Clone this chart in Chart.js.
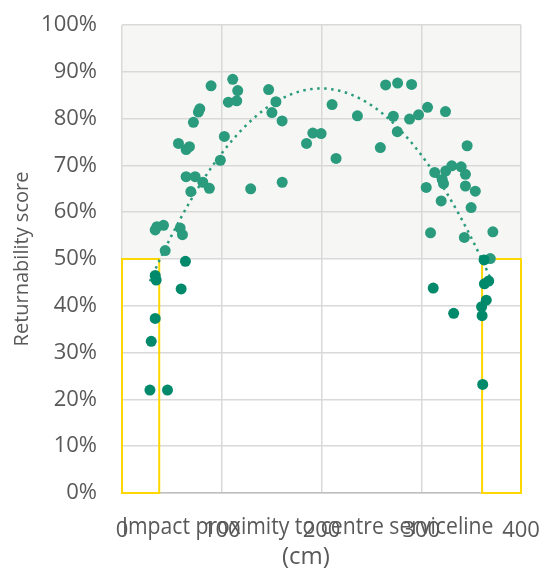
<!DOCTYPE html>
<html>
<head>
<meta charset="utf-8">
<script src="https://cdn.jsdelivr.net/npm/chart.js@4.4.1/dist/chart.umd.min.js"></script>
<style>
  html, body { margin: 0; padding: 0; background: #fff; }
  #wrap { width: 544px; height: 570px; }
</style>
</head>
<body>
<div id="wrap"><canvas id="scoreChart"></canvas></div>
<script>
// impact distance from centre serviceline (cm) and returnability score (%)
// points scoring 50% or more
const upperX = [43.3, 33.3, 35, 41.6, 58.3, 60.6, 69, 64.3, 73.3, 81, 87.6, 56.6, 64.3, 67.6,
    71.6, 76.6, 78, 89.3, 98.6, 102.6, 106.6, 111, 115, 116, 129, 147, 150.3, 154.3, 160.5,
    160.6, 185, 191.3, 199.6, 210.6, 214.6, 236, 259, 264.3, 276.3, 290.3, 272, 276, 288.3,
    297.3, 306.3, 324.3, 346, 313.5, 324.5, 330.6, 340, 344.3, 321, 322.3, 305, 344.3, 354.2,
    320, 350, 309.3, 343.2, 371.8, 369.2];
const upperY = [51.8, 56.2, 56.9, 57.2, 56.6, 55.2, 64.4, 67.6, 67.6, 66.4, 65.1, 74.7, 73.4, 74.0,
    79.2, 81.4, 82.1, 87.0, 71.1, 76.2, 83.5, 88.4, 83.8, 86.0, 65.0, 86.2, 81.3, 83.6, 79.5,
    66.4, 74.7, 76.9, 76.8, 83.0, 71.5, 80.6, 73.8, 87.2, 87.6, 87.3, 80.5, 77.2, 79.9,
    80.8, 82.4, 81.5, 74.2, 68.5, 68.8, 69.9, 69.7, 68.1, 67.0, 66.1, 65.3, 65.6, 64.5,
    62.4, 61.0, 55.6, 54.6, 55.8, 50.1];

// points scoring below 50%
const lowerX = [28, 45.6, 29.3, 33.3, 59.3, 33.3, 34.3, 63.6, 363, 312, 363.3, 367.6, 365.2,
    360.5, 332.5, 361, 361.6];
const lowerY = [22.0, 22.0, 32.4, 37.3, 43.6, 46.5, 45.5, 49.5, 49.8, 43.8, 44.7, 45.3, 41.2,
    39.8, 38.4, 37.9, 23.2];

// low-score zones near the sidelines: [xFrom, xTo] in cm, up to the 50% line
const zoneRanges = [[0, 37.3], [361, 400]];
const zoneTop = 50;

const xTicks = [0, 100, 200, 300, 400];

const textGrey = '#595959';
const gridGrey = '#d9d9d9';
const teal = '#2a9b7d';
const tealDark = '#00896a';

function toPoints(xs, ys) {
    return xs.map((x, i) => ({ x: x, y: ys[i] }));
}

// least squares fit of a 2nd order polynomial (the Excel trendline)
function quadFit(xs, ys) {
    const s = [0, 0, 0, 0, 0], t = [0, 0, 0];
    xs.forEach((x, i) => {
        for (let k = 0; k < 5; k++) s[k] += Math.pow(x, k);
        for (let k = 0; k < 3; k++) t[k] += Math.pow(x, k) * ys[i];
    });
    const m = [[s[0], s[1], s[2], t[0]], [s[1], s[2], s[3], t[1]], [s[2], s[3], s[4], t[2]]];
    for (let c = 0; c < 3; c++) {
        for (let r = c + 1; r < 3; r++) {
            const f = m[r][c] / m[c][c];
            for (let k = c; k < 4; k++) m[r][k] -= f * m[c][k];
        }
    }
    const b = [0, 0, 0];
    for (let r = 2; r >= 0; r--) {
        let v = m[r][3];
        for (let k = r + 1; k < 3; k++) v -= m[r][k] * b[k];
        b[r] = v / m[r][r];
    }
    return b;
}

const allX = upperX.concat(lowerX);
const allY = upperY.concat(lowerY);
const coef = quadFit(allX, allY);
const xMin = Math.min(...allX), xMax = Math.max(...allX);
const trend = [];
for (let i = 0; i <= 80; i++) {
    const x = xMin + (xMax - xMin) * i / 80;
    trend.push({ x: x, y: coef[0] + coef[1] * x + coef[2] * x * x });
}

const plotBackground = {
    id: 'plotBackground',
    beforeDraw(chart) {
        const { ctx, chartArea, scales } = chart;
        const yTop = scales.y.getPixelForValue(100);
        const yMid = scales.y.getPixelForValue(zoneTop);
        ctx.save();
        ctx.fillStyle = '#f6f6f4';
        ctx.fillRect(chartArea.left, yTop, chartArea.right - chartArea.left, yMid - yTop);
        ctx.restore();
    },
    beforeDatasetsDraw(chart) {
        const { ctx, scales } = chart;
        ctx.save();
        ctx.strokeStyle = '#ffd700';
        ctx.lineWidth = 2;
        zoneRanges.forEach(([a, b]) => {
            const x1 = scales.x.getPixelForValue(a);
            const x2 = scales.x.getPixelForValue(b);
            const y1 = scales.y.getPixelForValue(zoneTop);
            const y2 = scales.y.getPixelForValue(0);
            ctx.strokeRect(x1, y1, x2 - x1, y2 - y1);
        });
        ctx.restore();
    }
};

const family = '"Open Sans", "Noto Sans", sans-serif';
const tickFont = { family: family, size: 22 };
const pad = '\u00a0'.repeat(5); // Excel centres the axis title a bit left of the plot

new Chart(document.getElementById('scoreChart'), {
    type: 'scatter',
    data: {
        datasets: [
            {
                label: 'Trendline',
                data: trend,
                showLine: true,
                pointRadius: 0,
                borderColor: teal,
                borderWidth: 2.5,
                borderDash: [2.5, 4.5],
                fill: false,
                order: 3
            },
            {
                label: 'Score 50% and above',
                data: toPoints(upperX, upperY),
                backgroundColor: teal,
                borderWidth: 0,
                pointRadius: 5.5,
                order: 2
            },
            {
                label: 'Score below 50%',
                data: toPoints(lowerX, lowerY),
                backgroundColor: tealDark,
                borderWidth: 0,
                pointRadius: 5.5,
                order: 1
            }
        ]
    },
    options: {
        responsive: true,
        maintainAspectRatio: false,
        animation: false,
        layout: { padding: { top: 25, right: 23, left: 0, bottom: 0 } },
        plugins: {
            legend: { display: false },
            tooltip: { enabled: false }
        },
        scales: {
            x: {
                type: 'linear',
                min: 0,
                max: 400,
                afterBuildTicks: s => { s.ticks = xTicks.map(v => ({ value: v })); },
                afterFit: s => { s.height = 77; },
                grid: { color: gridGrey, lineWidth: 1.5, tickLength: 25, tickColor: 'rgba(0,0,0,0)' },
                border: { color: '#bfbfbf', width: 1.5 },
                ticks: { color: textGrey, font: tickFont, padding: 0, maxRotation: 0 },
                title: {
                    display: true,
                    text: ['Impact proximity to centre serviceline' + pad, '(cm)' + pad],
                    color: textGrey,
                    font: { family: family, size: 24, lineHeight: 1.25 },
                    padding: { top: 0, bottom: -2 }
                }
            },
            y: {
                min: 0,
                max: 100,
                afterFit: s => { s.width = 122; },
                grid: { color: gridGrey, lineWidth: 1.5, tickLength: 25, tickColor: 'rgba(0,0,0,0)' },
                border: { display: false },
                ticks: {
                    stepSize: 10,
                    color: textGrey,
                    font: tickFont,
                    padding: 0,
                    callback: v => v + '%'
                },
                title: {
                    display: true,
                    text: 'Returnability score',
                    color: textGrey,
                    font: { family: family, size: 20 },
                    padding: { top: 10, bottom: 0 }
                }
            }
        }
    },
    plugins: [plotBackground]
});
</script>
</body>
</html>
